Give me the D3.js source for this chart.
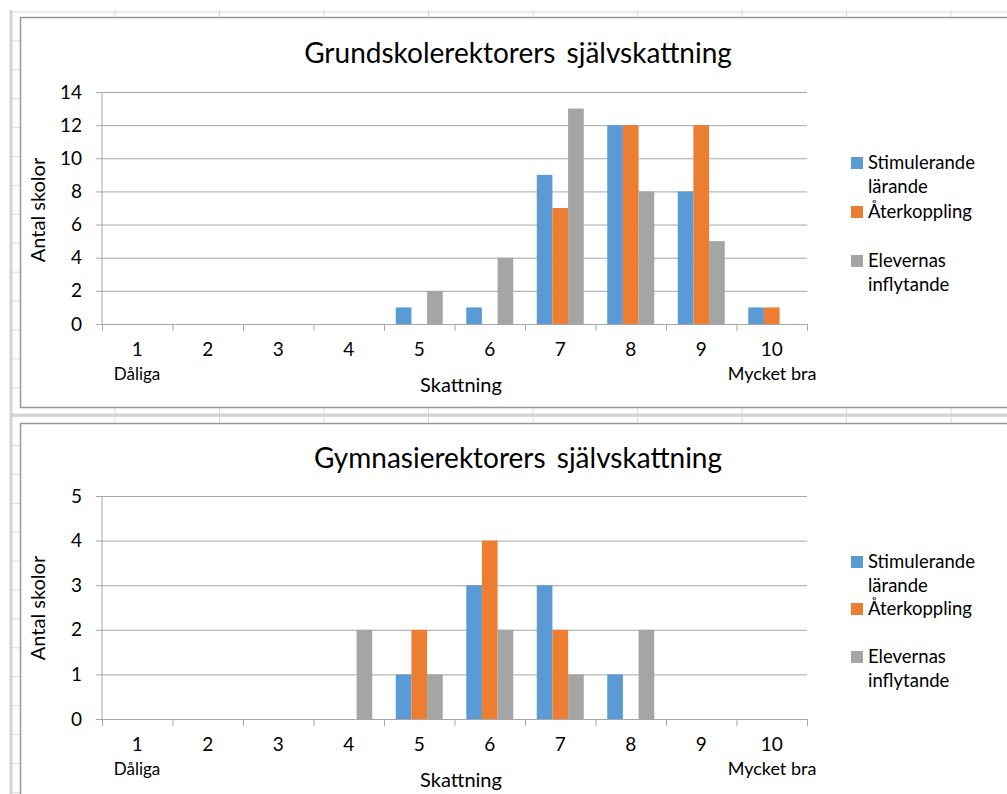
<!DOCTYPE html>
<html>
<head>
<meta charset="utf-8">
<script src="https://cdn.jsdelivr.net/npm/d3@7"></script>
<style>
  body { margin: 0; background: #fff; }
  svg { display: block; font-family: Lato, "Open Sans", sans-serif; }
</style>
</head>
<body>
<div class="chart"></div>
<script>
let categories = ['1', '2', '3', '4', '5', '6', '7', '8', '9', '10'];
let seriesNames = ['Stimulerande lärande', 'Återkoppling', 'Elevernas inflytande'];
let legendLines = [['Stimulerande', 'lärande'], ['Återkoppling'], ['Elevernas', 'inflytande']];
let colors = ['#5b9bd5', '#ed7d31', '#a5a5a5'];

// grundskola
let grundStimulerande = [0, 0, 0, 0, 1, 1, 9, 12, 8, 1];
let grundAterkoppling = [0, 0, 0, 0, 0, 0, 7, 12, 12, 1];
let grundElevernas = [0, 0, 0, 0, 2, 4, 13, 8, 5, 0];
let grundTicks = [0, 2, 4, 6, 8, 10, 12, 14];

// gymnasium
let gymnStimulerande = [0, 0, 0, 0, 1, 3, 3, 1, 0, 0];
let gymnAterkoppling = [0, 0, 0, 0, 2, 4, 2, 0, 0, 0];
let gymnElevernas = [0, 0, 0, 2, 1, 2, 1, 2, 0, 0];
let gymnTicks = [0, 1, 2, 3, 4, 5];

let W = 1007, H = 794;

let svg = d3.select('.chart')
  .append('svg')
    .attr('width', W)
    .attr('height', H);

// spreadsheet cells behind the charts
let colLines = d3.range(0, 10).map(i => 115 + i * 104.5);
let rowLines = d3.range(0, 28).map(i => 12 + i * 28.9);
svg.append('g')
  .selectAll('line.col')
  .data(colLines)
  .join('line')
    .attr('x1', d => d).attr('x2', d => d)
    .attr('y1', 10).attr('y2', H)
    .style('stroke', '#dadada');
svg.append('g')
  .selectAll('line.row')
  .data(rowLines)
  .join('line')
    .attr('x1', 10).attr('x2', W)
    .attr('y1', d => d).attr('y2', d => d)
    .style('stroke', '#dadada');
svg.append('line')
  .attr('x1', 11).attr('x2', 11).attr('y1', 10).attr('y2', H)
  .style('stroke', '#d4d4d4').style('stroke-width', 3);
svg.append('line')
  .attr('x1', 10).attr('x2', W).attr('y1', 415).attr('y2', 415)
  .style('stroke', '#d4d4d4').style('stroke-width', 3);

function drawChart(opts) {
  let box = svg.append('g');
  box.append('rect')
    .attr('x', 20.5)
    .attr('y', opts.boxTop + 0.5)
    .attr('width', W)
    .attr('height', opts.boxBottom - opts.boxTop)
    .style('fill', '#fff')
    .style('stroke', '#989898')
    .style('stroke-width', 1.5);

  let xScale = d3.scaleBand()
    .domain(categories)
    .range([102, 807]);

  let sub = d3.scaleBand()
    .domain(seriesNames)
    .range([0, xScale.bandwidth()])
    .paddingOuter(0.75);

  let yScale = d3.scaleLinear()
    .domain([0, opts.ticks[opts.ticks.length - 1]])
    .range([opts.bottom, opts.top]);

  // gridlines
  let yAxis = d3.axisLeft(yScale)
    .tickValues(opts.ticks)
    .tickFormat(d3.format('d'))
    .tickSize(-(807 - 96));
  let gy = box.append('g')
    .attr('transform', 'translate(807, 0)')
    .call(g => g.append('g').call(yAxis));
  gy.select('.domain').remove();
  gy.selectAll('.tick line')
    .attr('x1', 0).attr('x2', -(807 - 96))
    .style('stroke', '#a6a6a6');
  gy.selectAll('.tick text')
    .attr('x', -(807 - 96) - 14)
    .style('font-size', '19px')
    .style('fill', '#000')
    .style('font-family', 'Lato');

  // bars
  let series = opts.values.map((vals, i) => ({name: seriesNames[i], color: colors[i], vals: vals}));
  box.append('g')
    .selectAll('g')
    .data(series)
    .join('g')
      .style('fill', d => d.color)
    .selectAll('rect')
    .data(d => d.vals.map((v, j) => ({name: d.name, cat: categories[j], v: v})))
    .join('rect')
      .attr('x', d => xScale(d.cat) + sub(d.name))
      .attr('width', sub.bandwidth())
      .attr('y', d => yScale(d.v))
      .attr('height', d => opts.bottom - yScale(d.v));

  // y axis line
  box.append('line')
    .attr('x1', 102).attr('x2', 102)
    .attr('y1', opts.top).attr('y2', opts.bottom)
    .style('stroke', '#a6a6a6');

  // x axis, ticks between categories
  let xTicks = d3.scaleLinear().domain([0, 10]).range([102, 807]);
  let xAxis = d3.axisBottom(xTicks)
    .tickValues(d3.range(0, 11))
    .tickSize(7)
    .tickFormat('');
  let gx = box.append('g')
    .attr('transform', `translate(0, ${opts.bottom})`)
    .call(xAxis);
  gx.selectAll('line, path').style('stroke', '#a6a6a6');

  box.append('g')
    .selectAll('text')
    .data(categories)
    .join('text')
      .attr('x', d => xScale(d) + xScale.bandwidth() / 2)
      .attr('y', opts.bottom + 32)
      .attr('text-anchor', 'middle')
      .style('font-size', '19px')
      .text(d => d);

  box.append('text')
    .attr('x', 137).attr('y', opts.bottom + 56)
    .attr('text-anchor', 'middle')
    .style('font-size', '17px')
    .text('Dåliga');
  box.append('text')
    .attr('x', 772).attr('y', opts.bottom + 56)
    .attr('text-anchor', 'middle')
    .style('font-size', '18px')
    .text('Mycket bra');
  box.append('text')
    .attr('x', 461).attr('y', opts.bottom + 68)
    .attr('text-anchor', 'middle')
    .style('font-size', '20px')
    .text('Skattning');

  box.append('text')
    .attr('transform', `translate(45, ${opts.yTitle}) rotate(-90)`)
    .attr('text-anchor', 'middle')
    .style('font-size', '20px')
    .text('Antal skolor');

  box.append('text')
    .attr('x', 518).attr('y', opts.titleY)
    .attr('text-anchor', 'middle')
    .style('font-size', '28px')
    .style('word-spacing', '4px')
    .text(opts.title);

  // legend
  let lg = box.append('g')
    .selectAll('g')
    .data(legendLines)
    .join('g')
      .attr('transform', (d, i) => `translate(851, ${opts.legendY[i]})`);
  lg.append('rect')
    .attr('y', -6)
    .attr('width', 12)
    .attr('height', 12)
    .style('fill', (d, i) => colors[i]);
  lg.append('text')
    .style('font-size', '18.5px')
    .selectAll('tspan')
    .data(d => d)
    .join('tspan')
      .attr('x', 17)
      .attr('y', (d, i) => i * 24 + 6)
      .text(d => d);
}

drawChart({
  boxTop: 17, boxBottom: 407,
  top: 92, bottom: 324,
  ticks: grundTicks,
  values: [grundStimulerande, grundAterkoppling, grundElevernas],
  title: 'Grundskolerektorers självskattning',
  titleY: 63,
  yTitle: 210,
  legendY: [163, 212, 261]
});

drawChart({
  boxTop: 423, boxBottom: 810,
  top: 496, bottom: 719,
  ticks: gymnTicks,
  values: [gymnStimulerande, gymnAterkoppling, gymnElevernas],
  title: 'Gymnasierektorers självskattning',
  titleY: 468,
  yTitle: 608,
  legendY: [562, 609, 657]
});
</script>
</body>
</html>
